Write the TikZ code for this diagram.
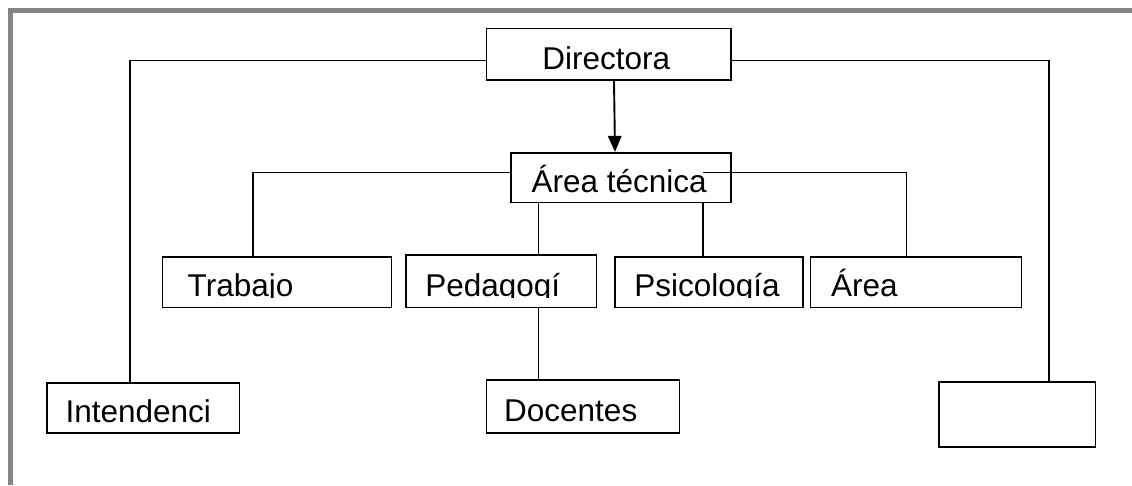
\documentclass[tikz,border=0pt]{standalone}
\usepackage{fontspec}
\setmainfont{Liberation Sans}
\usetikzlibrary{arrows.meta}
\begin{document}
\begin{tikzpicture}[x=1pt,y=-1pt,
  box/.style={draw=black,line width=1.6pt,inner sep=0pt,fill=none},
  txt/.style={inner sep=0pt,anchor=base west,font=\fontsize{31.5}{36}\selectfont},
  conn/.style={draw=black,line width=1.5pt},
  arr/.style={draw=black,line width=1.9pt,-{Triangle[width=13.5pt,length=16pt]}},
  frame/.style={draw={rgb,255:red,133;green,133;blue,133},line width=4.5pt}]
\useasboundingbox (0,0) rectangle (1132,485);
% frame
\draw[frame] (10.7,485) -- (10.7,10.7) -- (1132,10.7);
% boxes
\node[box,minimum width=244.3pt,minimum height=51.7pt] (dir) at (608.55,54.15) {};
\node[box,minimum width=220pt,minimum height=49.6pt] (at) at (620.7,177.5) {};
\node[box,minimum width=228.9pt,minimum height=50.6pt] (trab) at (276.95,282) {};
\node[box,minimum width=190.5pt,minimum height=52.6pt] (ped) at (501.25,281) {};
\node[box,minimum width=188.3pt,minimum height=50.6pt] (psi) at (708.85,282) {};
\node[box,minimum width=211.2pt,minimum height=50.6pt] (area) at (915.9,282) {};
\node[box,minimum width=192.6pt,minimum height=50pt] (int) at (143,407.7) {};
\node[box,minimum width=192.9pt,minimum height=52.7pt] (doc) at (582.85,406.35) {};
\node[box,minimum width=156.9pt,minimum height=64.7pt] (emp) at (1017.15,414.35) {};
% texts
\node[txt] (tdir) at (542.1,69.3) {Directora};
\node[txt] (tat) at (531.4,192.7) {Área técnica};
\begin{scope}
  \clip (trab.north west) rectangle (area.east |- 0,297.5);
  \node[txt] (ttrab) at (187.5,296) {Trabajo};
  \node[txt] (tped) at (425.1,296) {Pedagogí};
  \node[txt] (tpsi) at (634.2,296) {Psicología};
\end{scope}
\node[txt] (tarea) at (831,296) {Área};
\node[txt] (tint) at (65.3,422.3) {Intendenci};
\node[txt] (tdoc) at (504,421.7) {Docentes};
% connectors
\draw[arr] ([xshift=5.45pt]dir.south) -- ([xshift=-5.7pt]at.north);
\draw[conn] ([yshift=-6.15pt]dir.west) -| ([xshift=-13pt]int.north);
\draw[conn] ([yshift=-6.15pt]dir.east) -| ([xshift=31.8pt]emp.north);
\draw[conn] ([yshift=5.2pt]at.west) -| ([xshift=-23.8pt]trab.north);
\draw[conn] ([xshift=-82.1pt]at.south) -- ([xshift=-82.1pt]at.south |- ped.north);
\draw[conn] ([xshift=82.3pt]at.south) -- ([xshift=82.3pt]at.south |- psi.north);
\coordinate (atr) at (703.4,172.3);
\draw[conn] (atr) -| ([xshift=-9.3pt]area.north);
\draw[conn] ([xshift=37.35pt]ped.south) -- ([xshift=37.35pt]ped.south |- doc.north);
\end{tikzpicture}
\end{document}
